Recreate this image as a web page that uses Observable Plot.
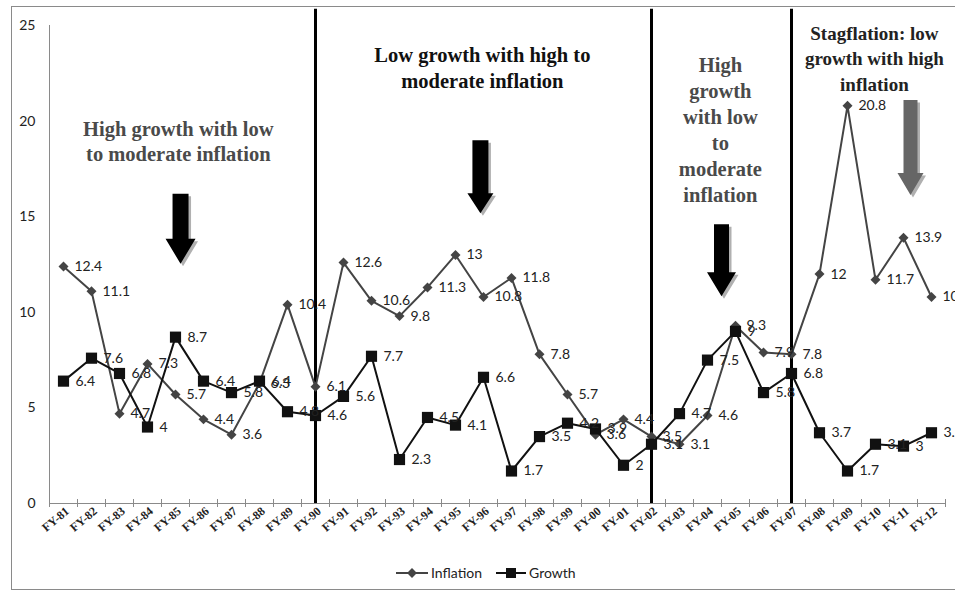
<!DOCTYPE html>
<html>
<head>
<meta charset="utf-8">
<script src="https://cdn.jsdelivr.net/npm/d3@7"></script>
<script src="https://cdn.jsdelivr.net/npm/@observablehq/plot@0.6"></script>
<style>
  html, body { margin: 0; padding: 0; background: #fff; }
  #wrap { position: relative; width: 955px; height: 593px; overflow: hidden; }
  #frame { position: absolute; left: 11px; top: 6px; width: 960px; height: 584px; border: 1px solid #8a8a8a; box-sizing: border-box; }
  #chart { position: absolute; left: 0; top: 0; }
  #legend { position: absolute; top: 564px; left: 396px; font-family: Lato, "Open Sans", sans-serif; font-size: 14px; color: #222; display: flex; align-items: center; gap: 14px; }
  #legend span { display: flex; align-items: center; gap: 3px; }
</style>
</head>
<body>
<div id="wrap">
  <div id="frame"></div>
  <div id="chart"></div>
  <div id="legend">
    <span><svg width="32" height="12"><line x1="0" y1="6" x2="32" y2="6" stroke="#444" stroke-width="2"/><rect x="12.5" y="2.5" width="7" height="7" fill="#444" transform="rotate(45 16 6)"/></svg>Inflation</span>
    <span><svg width="30" height="12"><line x1="0" y1="6" x2="30" y2="6" stroke="#111" stroke-width="2"/><rect x="10" y="1" width="10" height="10" fill="#111"/></svg>Growth</span>
  </div>
</div>
<script>
const years = ["FY-81","FY-82","FY-83","FY-84","FY-85","FY-86","FY-87","FY-88","FY-89","FY-90",
  "FY-91","FY-92","FY-93","FY-94","FY-95","FY-96","FY-97","FY-98","FY-99","FY-00",
  "FY-01","FY-02","FY-03","FY-04","FY-05","FY-06","FY-07","FY-08","FY-09","FY-10","FY-11","FY-12"];
const inflation = [12.4,11.1,4.7,7.3,5.7,4.4,3.6,6.3,10.4,6.1,
  12.6,10.6,9.8,11.3,13,10.8,11.8,7.8,5.7,3.6,
  4.4,3.5,3.1,4.6,9.3,7.9,7.8,12,20.8,11.7,13.9,10.8];
const growth = [6.4,7.6,6.8,4,8.7,6.4,5.8,6.4,4.8,4.6,
  5.6,7.7,2.3,4.5,4.1,6.6,1.7,3.5,4.2,3.9,
  2,3.1,4.7,7.5,9,5.8,6.8,3.7,1.7,3.1,3,3.7];
const yTicks = [0,5,10,15,20,25];
const dividers = ["FY-90","FY-02","FY-07"];

// annotations (x = category position, y = value)
const notes = [
  {x: 4.1, y: 19.0, text: "High growth with low\nto moderate inflation", color: "#4a4a4a", fs: 20.5, lh: 1.24},
  {x: 14.96, y: 22.85, text: "Low growth with high to\nmoderate inflation", color: "#111", fs: 20.5, lh: 1.26},
  {x: 23.46, y: 19.6, text: "High\ngrowth\nwith low\nto\nmoderate\ninflation", color: "#4a4a4a", fs: 20.5, lh: 1.26},
  {x: 28.96, y: 23.33, text: "Stagflation: low\ngrowth with high\ninflation", color: "#222", fs: 19, lh: 1.32}
];
const arrows = [
  {x: 4.18, y: 16.2, len: 70, sw: 8, hw: 15, hl: 25, color: "#000"},
  {x: 14.89, y: 19.0, len: 73, sw: 8, hw: 13, hl: 20, color: "#000"},
  {x: 23.5, y: 14.6, len: 72, sw: 7.5, hw: 14.5, hl: 24, color: "#000"},
  {x: 30.25, y: 21.1, len: 95, sw: 7, hw: 13, hl: 22, color: "#666"}
];

const idx = new Map(years.map((d, i) => [d, i]));
const rows = years.map((y, i) => ({i, year: y, inflation: inflation[i], growth: growth[i]}));
const bounds = d3.range(-0.5, years.length, 1);

function arrowShape(a) {
  return {
    draw(ctx, l) {
      const b = l - a.hl;
      ctx.moveTo(-a.sw, 0);
      ctx.lineTo(a.sw, 0);
      ctx.lineTo(a.sw, -b);
      ctx.lineTo(a.hw, -b);
      ctx.lineTo(0, -l);
      ctx.lineTo(-a.hw, -b);
      ctx.lineTo(-a.sw, -b);
      ctx.closePath();
    }
  };
}

const labelFont = "Lato, 'Open Sans', sans-serif";
const serif = "'Liberation Serif', 'DejaVu Serif', serif";

const plot = Plot.plot({
  width: 955,
  height: 548,
  marginLeft: 49,
  marginRight: 10,
  marginTop: 25,
  marginBottom: 45,
  style: {background: "transparent", overflow: "visible", fontFamily: labelFont},
  x: {type: "linear", domain: [-0.5, years.length - 0.5], axis: null},
  y: {domain: [0, 25], axis: null},
  marks: [
    // axes
    Plot.ruleX([-0.5], {y1: 0, y2: 25, stroke: "#8a8a8a", strokeWidth: 1}),
    Plot.ruleY([0], {stroke: "#8a8a8a", strokeWidth: 1}),
    Plot.ruleX(bounds, {x: d => d, y1: 0, y2: 0, insetTop: -4, insetBottom: -4, stroke: "#8a8a8a"}),
    Plot.text(yTicks, {x: -0.5, y: d => d, text: d => String(d), textAnchor: "end", dx: -14, fontSize: 14, fill: "#222"}),
    Plot.axisX({ticks: d3.range(years.length), tickFormat: i => years[i], tickRotate: -40, tickSize: 0, tickPadding: 6, fontSize: 12, fontWeight: "bold", fontFamily: serif, color: "#222", dx: 4}),
    // dividers
    Plot.ruleX(dividers, {x: d => idx.get(d), y1: 0, y2: 25.85, stroke: "#000", strokeWidth: 3}),
    // inflation
    Plot.line(rows, {x: "i", y: "inflation", stroke: "#444", strokeWidth: 2}),
    Plot.dot(rows, {x: "i", y: "inflation", symbol: "diamond2", r: 4.5, fill: "#444", stroke: "none"}),
    // growth
    Plot.line(rows, {x: "i", y: "growth", stroke: "#111", strokeWidth: 2}),
    Plot.dot(rows, {x: "i", y: "growth", symbol: "square", r: 6.3, fill: "#111", stroke: "none"}),
    // data labels
    Plot.text(rows, {x: "i", y: "inflation", text: d => String(d.inflation), textAnchor: "start", dx: 11, fontSize: 14, fill: "#222"}),
    Plot.text(rows, {x: "i", y: "growth", text: d => String(d.growth), textAnchor: "start", dx: 12, fontSize: 14, fill: "#222"}),
    // annotations
    ...notes.map(n => Plot.text([n], {x: "x", y: "y", text: "text", textAnchor: "middle", lineHeight: n.lh, fontSize: n.fs, fontWeight: "bold", fontFamily: serif, fill: n.color})),
    ...arrows.map(a => Plot.vector([a], {x: "x", y: "y", length: a.len, rotate: 180, anchor: "start", shape: arrowShape(a), fill: "#b0b0b0", stroke: "none", dx: 2.5, dy: 2.5})),
    ...arrows.map(a => Plot.vector([a], {x: "x", y: "y", length: a.len, rotate: 180, anchor: "start", shape: arrowShape(a), fill: a.color, stroke: "none"}))
  ]
});
document.getElementById("chart").appendChild(plot);
</script>
</body>
</html>
